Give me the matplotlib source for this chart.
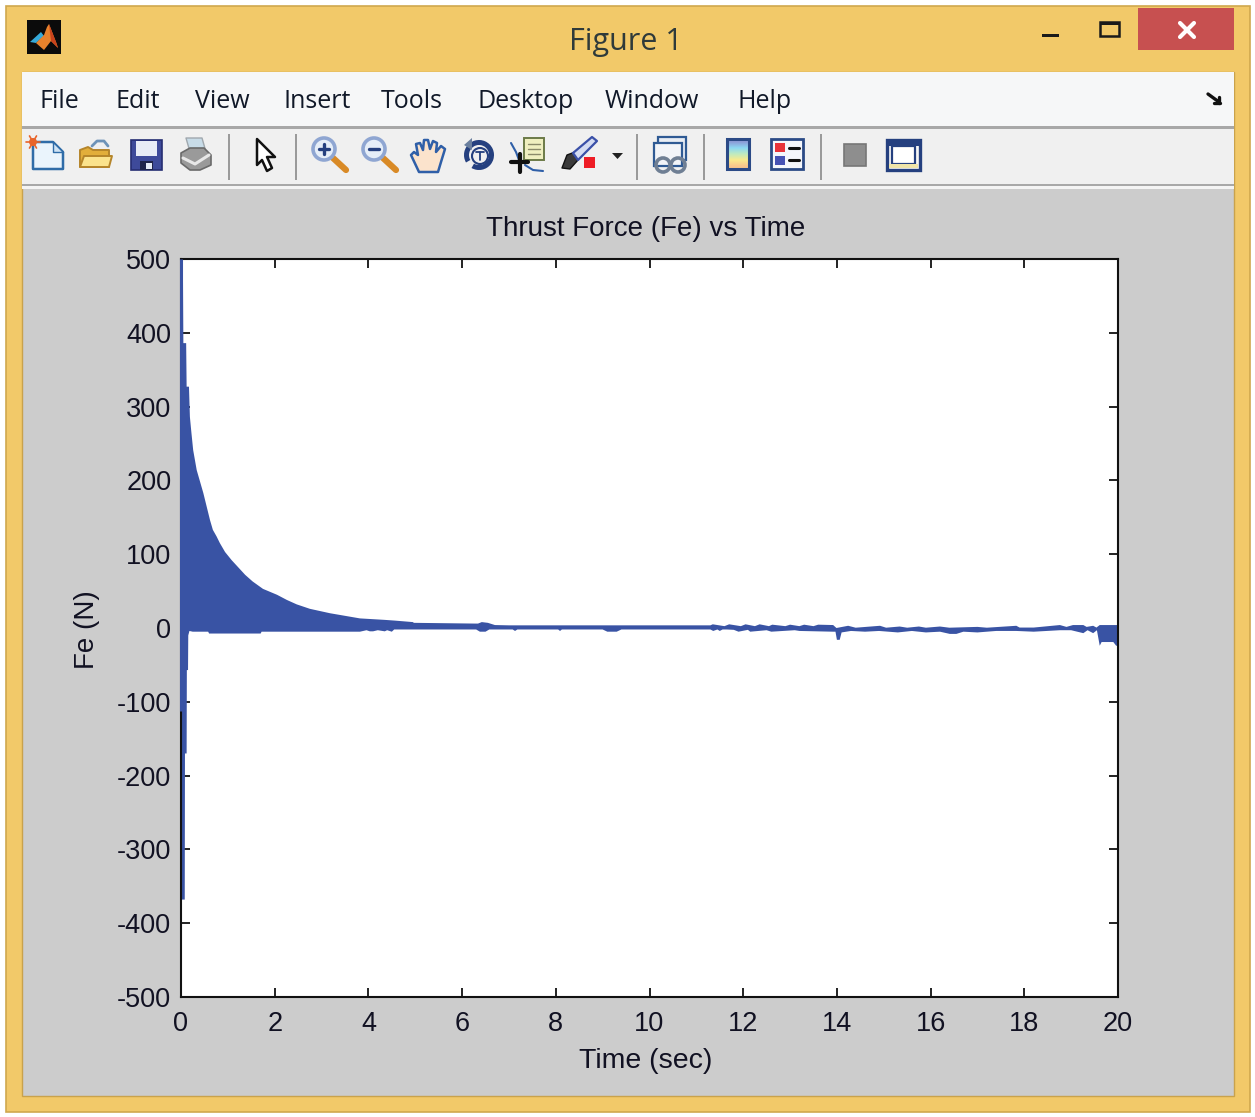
import numpy as np
import matplotlib
matplotlib.use("Agg")
import matplotlib.pyplot as plt
from matplotlib.patches import Rectangle, Polygon, Circle, Wedge

plt.rcParams["axes.unicode_minus"] = False

# ---- data ----
upper_t = [0.00, 0.04, 0.05, 0.11, 0.12, 0.17, 0.19, 0.22, 0.26, 0.335, 0.476, 0.55, 0.62, 0.68, 0.76, 0.83, 0.94, 1.08, 1.37, 1.53, 1.75,
           2.05, 2.26, 2.47, 2.75, 3.18, 3.82, 4.35, 4.57, 4.95, 4.97, 6.28, 6.34, 6.42, 6.55, 6.7, 7.0, 9.0, 11.3, 11.35,
           11.6, 11.7, 11.95, 12.05, 12.25, 12.35, 12.55, 12.62, 12.9, 13.0, 13.2, 13.3, 13.5, 13.6, 13.92,
           13.99, 14.24, 14.4, 14.92, 15.05, 15.34, 15.5, 15.75, 15.9, 16.2, 16.4, 17.0, 17.2, 17.83, 17.9, 18.2, 18.76, 18.9, 19.04, 19.26,
           19.33, 19.47, 19.54, 19.61, 20.0]
upper_v = [500, 500, 386, 386, 327, 327, 286, 266, 241, 214, 183, 164, 146, 133, 124, 115, 103, 92, 72, 63, 53,
           45, 38, 32, 26, 20, 13, 11, 10, 8, 7, 6, 6, 8, 7, 4, 3.6, 3.6, 3.6, 5,
           2.5, 5, 2.5, 5, 2.5, 5, 2.5, 4.5, 2.5, 4.5, 2.5, 4.5, 2.5, 4.5, 4,
           0, 3, 0.4, 3, 0.4, 2, 0.4, 2, 0.4, 2, 0.4, 1.5, 0.4, 3, 0.6, 0.6, 4, 1.5, 4, 4,
           1.5, 3, 0.6, 4, 4]
lower_t = [0.00, 0.08, 0.085, 0.12, 0.125, 0.15, 0.155, 0.18, 0.25, 0.58, 0.6, 1.7, 1.72, 3.82, 3.96, 4.03,
           4.1, 4.2, 4.35, 4.4, 4.5, 4.55, 6.3, 6.38, 6.5, 6.58, 7.08, 7.13, 7.18, 8.05, 8.09, 8.13, 9.0, 9.1,
           9.3, 9.4, 11.3, 11.36, 11.45, 11.5, 11.56, 11.65, 11.8, 11.9, 12.1, 12.15, 12.5, 12.6, 13.1, 13.2,
           13.92, 13.97, 14.0, 14.06, 14.1, 14.3, 14.6, 14.9, 15.3, 15.6, 15.9, 16.2, 16.41, 16.55, 16.7, 17.0, 17.4, 17.83, 18.2,
           18.76, 19.0, 19.26, 19.35, 19.47, 19.55, 19.61, 19.65, 19.9, 19.96, 20.0]
lower_v = [-368, -368, -170, -170, -57, -57, -10, -4, -5, -5, -7.5, -7.5, -5, -5, -3, -4.5,
           -4.5, -3, -4.5, -3, -5, -2, -2, -5, -5, -2, -2, -4, -2, -2, -4, -2, -2, -5,
           -5, -2, -2, -4, -2, -4, -2, -2, -2.5, -5, -2.5, -5, -3, -5, -3, -4,
           -5, -5, -16, -16, -6, -4, -5, -4, -6, -4, -6, -5, -8, -8, -5, -6, -4, -4, -5,
           -3, -3, -7, -3, -7, -3, -24, -19, -19, -24, -24]
spine_cover_v = [-112, 500]
x_ticks = [0, 2, 4, 6, 8, 10, 12, 14, 16, 18, 20]
y_ticks = [-500, -400, -300, -200, -100, 0, 100, 200, 300, 400, 500]
menu_items = ["File", "Edit", "View", "Insert", "Tools", "Desktop", "Window", "Help"]
menu_left = [40, 115, 195, 283, 381, 478, 605, 738]

BLUE = "#3953A4"
NAVY = "#25407F"
UI = "Open Sans"
PLOT = "Liberation Sans"

fig = plt.figure(figsize=(12.55, 11.17), dpi=100, facecolor="white")
ui = fig.add_axes([0, 0, 1, 1], zorder=0)
ui.set_xlim(0, 1255); ui.set_ylim(1117, 0); ui.axis("off")


def rect(x0, y0, x1, y1, fc, ec="none", lw=0, z=1):
    ui.add_patch(Rectangle((x0, y0), x1 - x0, y1 - y0, facecolor=fc, edgecolor=ec, linewidth=lw, zorder=z))


def poly(pts, fc, ec="none", lw=0, z=3):
    ui.add_patch(Polygon(pts, closed=True, facecolor=fc, edgecolor=ec, linewidth=lw, zorder=z, joinstyle="round"))


def line(xs, ys, c, lw=1.5, z=3):
    ui.plot(xs, ys, color=c, lw=lw, zorder=z, solid_capstyle="round")


# window frame
rect(6, 6, 1250, 1112, "#F2C969", ec="#D0A84E", lw=1.2)
rect(22, 72, 1234, 1096, "#CCCCCC", ec="#C9A24C", lw=1, z=1)
rect(22, 72, 1234, 126, "#F6F7F8", z=2)
rect(22, 126, 1234, 129, "#A8A8A8", z=2)
rect(22, 129, 1234, 184, "#F0F0F0", z=2)
rect(22, 184, 1234, 186, "#A8A8A8", z=2)
rect(22, 186, 1234, 189, "#F4F4F4", z=2)

# title bar
ui.text(626, 42, "Figure 1", family=UI, fontsize=22, color="#2F3A3A", ha="center", va="center", zorder=4)
rect(27, 20, 61, 54, "#0B0B0B", z=3)
poly([(30, 42), (41, 32), (44, 36), (36, 43)], "#35A9D8")
poly([(36, 43), (44, 35), (47, 27), (49, 24), (56, 42), (58, 48), (51, 41), (44, 50)], "#E8822C")
poly([(49, 24), (56, 42), (58, 48), (51, 41)], "#C9431C")
rect(1042, 34, 1059, 37, "#1A1A1A", z=3)
rect(1100, 22, 1119, 36, "none", ec="#1A1A1A", lw=1.8, z=3)
rect(1100, 22, 1119, 25, "#1A1A1A", z=3)
rect(1138, 8, 1234, 50, "#C75050", z=3)
line([1180, 1194], [23, 37], "white", 3, z=4)
line([1194, 1180], [23, 37], "white", 3, z=4)

# menu bar
for label, left in zip(menu_items, menu_left):
    ui.text(left, 102, label, family=UI, fontsize=18, color="#101828", ha="left", va="center", zorder=4)
line([1208, 1219], [94, 102], "#111111", 2.4)
line([1219, 1219], [97, 103], "#111111", 2.4)
line([1214, 1220], [103, 103], "#111111", 2.4)

# toolbar separators
for sx in [229, 296, 637, 704, 821]:
    rect(sx - 1, 134, sx + 1, 180, "#9A9A9A", z=3)

# new file
poly([(33, 142), (53, 142), (63, 152), (63, 169), (33, 169)], "#EAF4FC", ec="#2F6CA8", lw=1.8)
poly([(53, 142), (53, 152), (63, 152)], "#CFE3F4", ec="#2F6CA8", lw=1)
ui.add_patch(Circle((33, 142), 4, fc="#E8642A", ec="none", zorder=4))
for a in np.deg2rad(np.arange(0, 360, 60)):
    line([33, 33 + 7 * np.cos(a)], [142, 142 + 7 * np.sin(a)], "#E8642A", 1.2, z=4)
# open folder
poly([(80, 150), (88, 147), (93, 150), (109, 150), (109, 167), (80, 167)], "#E2AE3A", ec="#B5852A", lw=1.4)
poly([(80, 167), (84, 156), (112, 156), (109, 167)], "#FBE38C", ec="#B5852A", lw=1.4)
line([92, 97, 104, 108], [146, 141, 141, 146], "#6E93B8", 2)
# save
rect(131, 140, 162, 170, "#3E4A9A", ec="#262E72", lw=1.2, z=3)
rect(136, 141, 157, 156, "#E8ECF6", z=4)
rect(140, 161, 153, 170, "#20244A", z=4)
rect(146, 163, 152, 169, "#E8ECF6", z=5)
# printer
poly([(186, 138), (202, 138), (206, 152), (190, 152)], "#C8DCE8", ec="#A0A8AE", lw=1)
poly([(181, 153), (190, 148), (204, 148), (211, 155), (211, 165), (200, 170), (190, 170), (181, 163)], "#9A9A9A", ec="#6A6A6A", lw=1.2)
line([183, 195, 209], [158, 164, 155], "#E8E8E8", 2.2, z=4)
# pointer arrow
poly([(257, 139), (275, 157), (267, 157), (272, 168), (267, 171), (262, 160), (257, 165)], "white", ec="#111111", lw=1.8)
# zoom in / zoom out
for cx, sym in [(324, "+"), (374, "-")]:
    line([cx + 9, cx + 22], [158, 170], "#D98A26", 4.5)
    ui.add_patch(Circle((cx, 149), 11, fc="#E6EEF8", ec="#8FA6D2", lw=2.6, zorder=4))
    line([cx - 5, cx + 5], [149, 149], NAVY, 2.4, z=5)
    if sym == "+":
        line([cx, cx], [144, 154], NAVY, 2.4, z=5)
# hand
poly([(419, 172), (411, 155), (414, 152), (418, 155), (416, 144), (420, 143), (423, 150), (424, 140), (428, 140),
      (430, 149), (433, 141), (437, 143), (436, 152), (441, 146), (445, 149), (441, 162), (438, 172)],
     "#FBE3CC", ec="#2F5FA8", lw=1.8)
# rotate 3D
ui.add_patch(Wedge((479, 155), 15, -210, 120, width=5, fc=NAVY, ec="none", zorder=3))
ui.add_patch(Circle((480, 156), 8, fc="none", ec=NAVY, lw=1.5, zorder=3))
poly([(464, 145), (472, 138), (472, 150)], "#6A7F9E")
line([476, 484], [152, 152], NAVY, 1.3)
line([480, 480], [152, 160], NAVY, 1.3)
# data cursor
rect(524, 138, 544, 160, "#EFEFC0", ec="#6C7A48", lw=1.4, z=3)
for yy in [144, 149, 154]:
    line([528, 540], [yy, yy], "#8A8A6A", 1, z=4)
line([511, 516, 519], [143, 152, 160], "#2F5FA8", 1.5)
line([525, 533, 543], [165, 170, 171], "#2F5FA8", 1.5)
line([511, 528], [162, 162], "#111111", 3, z=5)
line([520, 520], [154, 172], "#111111", 3, z=5)
# brush
poly([(562, 168), (567, 155), (575, 152), (578, 160), (570, 169)], "#3A3A3A", ec="#111111", lw=1)
poly([(573, 153), (592, 137), (597, 141), (578, 160)], "#D4DCF2", ec="#3A50A8", lw=1.6)
rect(584, 157, 595, 168, "#EE1C25", z=4)
poly([(612, 153), (623, 153), (617.5, 159)], "#222222")
# link plot
rect(658, 137, 686, 160, "#E8EDF4", ec="#2F5A94", lw=1.6, z=3)
rect(654, 143, 682, 166, "#F2F4F8", ec="#2F5A94", lw=1.6, z=3)
for ox in [663, 678]:
    ui.add_patch(Circle((ox, 165), 7, fc="none", ec="#6F7F94", lw=2.6, zorder=4))
# colorbar icon
grad = np.array([[[0.55, 0.62, 0.85]], [[0.55, 0.85, 0.95]], [[0.75, 0.92, 0.75]], [[0.98, 0.92, 0.55]], [[0.98, 0.78, 0.55]]])
ui.imshow(grad, extent=(727, 749, 169, 139), aspect="auto", zorder=3, interpolation="bilinear")
ui.set_xlim(0, 1255); ui.set_ylim(1117, 0)
rect(727, 139, 749, 169, "none", ec="#2B4A86", lw=2.2, z=4)
# legend
rect(771, 139, 803, 169, "#F4F6FB", ec="#2B4A86", lw=2, z=3)
rect(775, 143, 785, 152, "#E8333A", z=4)
rect(775, 156, 785, 165, "#4652B4", z=4)
line([789, 799], [148, 148], "#111111", 2.2, z=4)
line([789, 799], [160, 160], "#111111", 2.2, z=4)
# hide / show plot tools
rect(844, 144, 866, 166, "#8E8E8E", ec="#777777", lw=1.2, z=3)
rect(887, 140, 920, 170, "#F6F6F6", ec=NAVY, lw=2.4, z=3)
rect(887, 140, 920, 146, NAVY, z=4)
rect(892, 146, 915, 164, "white", ec=NAVY, lw=1.6, z=4)
rect(889, 164, 918, 168, "#EFE4A8", z=4)

# ---- chart ----
x0, x1, y0, y1 = 181, 1118, 259, 997
ax = fig.add_axes([x0 / 1255, (1117 - y1) / 1117, (x1 - x0) / 1255, (y1 - y0) / 1117], zorder=2)
ax.set_facecolor("white")
ax.fill(np.r_[upper_t, lower_t[::-1]], np.r_[upper_v, lower_v[::-1]], facecolor=BLUE, edgecolor="none", zorder=2)
ax.plot([0, 0], spine_cover_v, color=BLUE, lw=2.2, clip_on=False, zorder=3, solid_capstyle="butt")
ax.set_xlim(0, 20); ax.set_ylim(-500, 500)
ax.set_xticks(x_ticks); ax.set_yticks(y_ticks)
ax.tick_params(direction="in", top=True, right=True, length=6.5, width=1.3, color="#111111",
               labelsize=19.5, labelcolor="#111122", pad=7)
ax.tick_params(axis="x", pad=10)
for label in ax.get_xticklabels() + ax.get_yticklabels():
    label.set_family(PLOT)
for s in ax.spines.values():
    s.set_linewidth(1.5); s.set_color("#111111")
ui.text(646, 229, "Thrust Force (Fe) vs Time", family=PLOT, fontsize=20, color="#111122", ha="center", va="center", zorder=4)
ui.text(646, 1061, "Time (sec)", family=PLOT, fontsize=20.5, color="#111122", ha="center", va="center", zorder=4)
ui.text(87, 630, "Fe (N)", family=PLOT, fontsize=20, color="#111122", rotation=90, ha="center", va="center", zorder=4)

fig.savefig("out.png", dpi=100, facecolor="white")
